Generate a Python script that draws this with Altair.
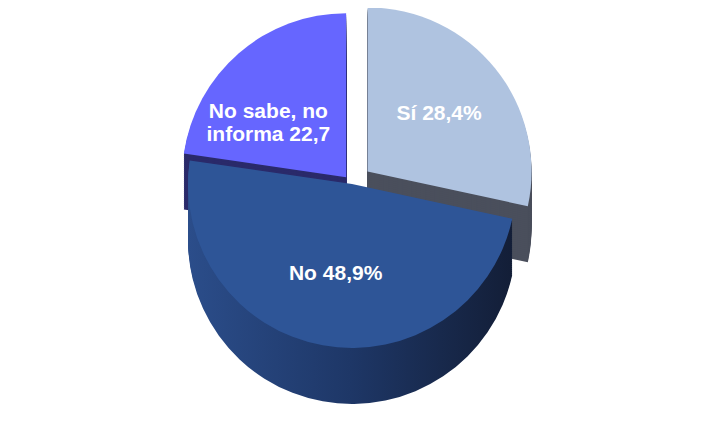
import math
import altair as alt
import pandas as pd

# Data
categories = ["Sí", "No", "No sabe, no informa"]
values = [28.4, 48.9, 22.7]
labels = ["Sí 28,4%", "No 48,9%", "No sabe, no\ninforma 22,7"]

# Styles
top_colors = ["#AFC3E0", "#2E5597", "#6666FF"]
side_fills = {
    "Sí": "#4A4F5C",
    "No sabe, no informa": "#2A2A6A",
    "No": alt.LinearGradient(
        gradient="linear", x1=0, x2=1, y1=0, y2=0,
        stops=[alt.GradientStop(color="#2B4D8A", offset=0),
               alt.GradientStop(color="#1E3767", offset=0.5),
               alt.GradientStop(color="#131E37", offset=1)],
    ),
}
explode = {"Sí": 20, "No": 0, "No sabe, no informa": 9}
label_shift = {"Sí": 0, "No": 0, "No sabe, no informa": -2.5}   # in percent of the circle
label_radius = {"Sí": 0.56, "No": 0.56, "No sabe, no informa": 0.62}

df = pd.DataFrame({"category": categories, "value": values, "label": labels})
df["end"] = df["value"].cumsum()
df["start"] = df["end"] - df["value"]
df["mid"] = (df["start"] + df["end"]) / 2
df["explode"] = df["category"].map(explode)
df["lmid"] = df["mid"] + df["category"].map(label_shift)

CX, CY, R, T = 344, 176, 164, 56
df["lr"] = df["category"].map(label_radius) * R

# extruded side: the same slices repeated at increasing depth
depths = pd.DataFrame({"depth": list(range(T, 0, -2))})
sdf = df.merge(depths, how="cross").sort_values("depth", ascending=False)

theta_scale = alt.Scale(domain=[0, 100], range=[0, 2 * math.pi])
pos_calc = dict(
    px=f"{CX} + datum.explode * sin(datum.mid / 100 * 2 * PI)",
    py=f"{CY} - datum.explode * cos(datum.mid / 100 * 2 * PI)",
)

side_layers = []
for cat in ["Sí", "No sabe, no informa", "No"]:
    side_layers.append(
        alt.Chart(sdf)
        .transform_filter(alt.datum.category == cat)
        .transform_calculate(**pos_calc)
        .transform_calculate(pyd="datum.py + datum.depth")
        .mark_arc(outerRadius=R, color=side_fills[cat])
        .encode(
            theta=alt.Theta("start:Q", scale=theta_scale),
            theta2="end:Q",
            x=alt.X("px:Q", scale=None),
            y=alt.Y("pyd:Q", scale=None),
        )
    )

base = alt.Chart(df).transform_calculate(**pos_calc)

top = base.mark_arc(outerRadius=R).encode(
    theta=alt.Theta("start:Q", scale=theta_scale),
    theta2="end:Q",
    x=alt.X("px:Q", scale=None),
    y=alt.Y("py:Q", scale=None),
    color=alt.Color("category:N",
                    scale=alt.Scale(domain=categories, range=top_colors),
                    legend=None),
)

text = base.mark_text(
    fontSize=21, fontWeight="bold", color="white",
    font="Liberation Sans", lineBreak="\n", align="center", baseline="middle",
).encode(
    theta=alt.Theta("lmid:Q", scale=theta_scale),
    radius=alt.Radius("lr:Q", scale=None),
    x=alt.X("px:Q", scale=None),
    y=alt.Y("py:Q", scale=None),
    text="label:N",
)

chart = (
    alt.layer(*side_layers, top, text)
    .properties(width=688, height=406, padding=0, autosize="none", background="white")
    .configure_view(stroke=None)
)

chart.save("out.html", embed_options={"renderer": "svg", "actions": False})
